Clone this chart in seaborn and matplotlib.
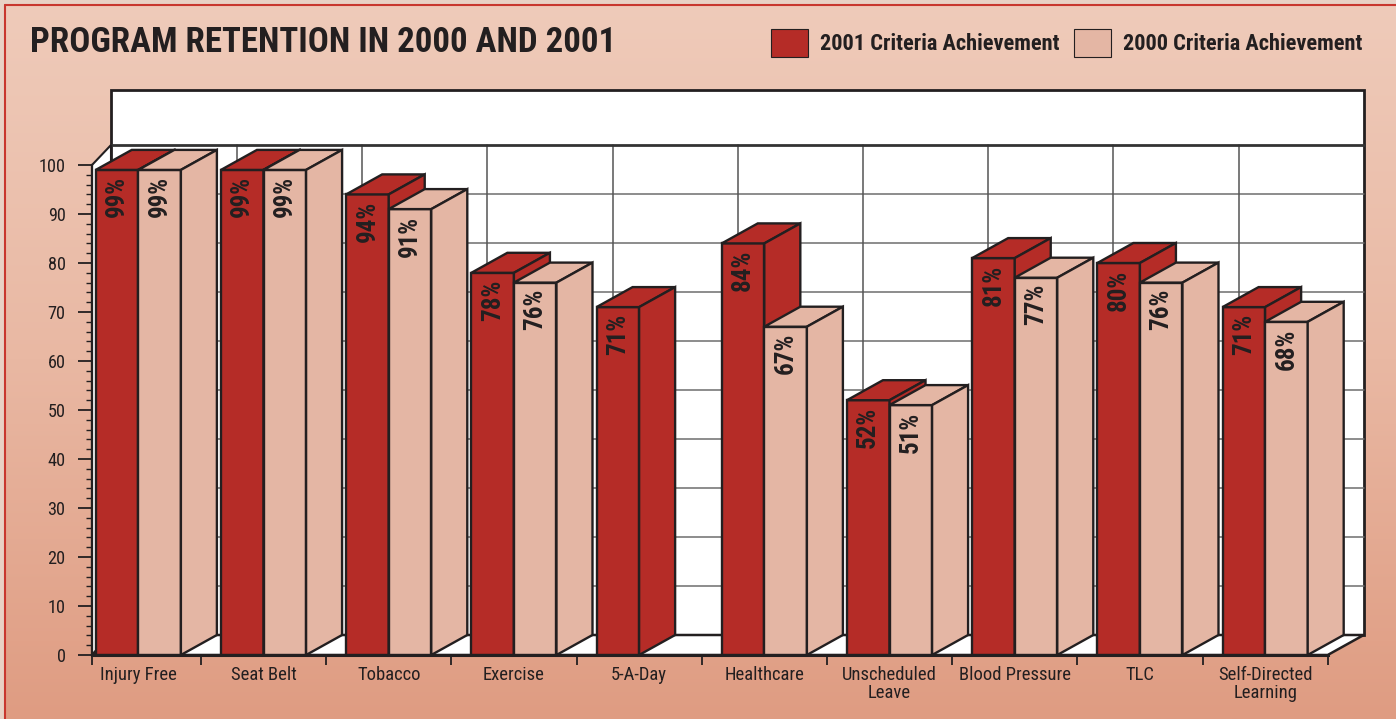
import numpy as np
import pandas as pd
import matplotlib
matplotlib.use("Agg")
import matplotlib.pyplot as plt
from matplotlib import font_manager as fm
import seaborn as sns
from matplotlib.patches import Polygon, Patch, Rectangle
from matplotlib.colors import LinearSegmentedColormap

# ---------------- data ----------------
programs = ["Injury Free", "Seat Belt", "Tobacco", "Exercise", "5-A-Day",
            "Healthcare", "Unscheduled\nLeave", "Blood Pressure", "TLC",
            "Self-Directed\nLearning"]
values_2001 = [99, 99, 94, 78, 71, 84, 52, 81, 80, 71]
values_2000 = [99, 99, 91, 76, np.nan, 67, 51, 77, 76, 68]
series_labels = ["2001 Criteria Achievement", "2000 Criteria Achievement"]
y_ticks = list(range(0, 101, 10))
title = "PROGRAM RETENTION IN 2000 AND 2001"

RED = "#B52C27"
PINK = "#E4B6A4"
INK = "#231F20"

df = pd.DataFrame({
    "program": programs * 2,
    "value": values_2001 + values_2000,
    "series": [series_labels[0]] * len(programs) + [series_labels[1]] * len(programs),
})


def pick_condensed():
    names = {}
    for f in fm.fontManager.ttflist:
        names.setdefault(f.name, []).append(f)
    for n in ["Liberation Sans Narrow", "Roboto Condensed", "Open Sans Condensed",
              "Noto Sans Condensed", "DejaVu Sans Condensed", "Arial Narrow"]:
        if n in names:
            return n, "normal"
    for n in ["Noto Sans", "Open Sans", "Roboto", "DejaVu Sans", "Inter"]:
        for f in names.get(n, []):
            if str(f.stretch) in ("condensed", "semi-condensed", "extra-condensed",
                                  "ultra-condensed"):
                return n, "condensed"
    for n in names:
        if "Narrow" in n or "Condensed" in n:
            return n, "normal"
    return "DejaVu Sans", "normal"


sns.set_theme(style="white")
FONT, STRETCH = pick_condensed()
FAM = [FONT, "DejaVu Sans"]
plt.rcParams["font.family"] = FAM
plt.rcParams["font.stretch"] = STRETCH

W, H = 1396, 719
fig = plt.figure(figsize=(W / 100, H / 100), dpi=100)
renderer = fig.canvas.get_renderer()


def fit_size(s, target_px, cap, weight="normal", vertical=False):
    t = fig.text(0, 0, s, fontsize=20, fontweight=weight, family=FAM,
                 fontstretch=STRETCH, rotation=90 if vertical else 0)
    bb = t.get_window_extent(renderer)
    t.remove()
    size = 20 * target_px / (bb.height if vertical else bb.width)
    return min(size, cap)


fs_title = fit_size(title, 586, 30, "bold")
fs_leg = fit_size(series_labels[0], 238, 17, "bold")
fs_cat = fit_size("Blood Pressure", 112, 15)
fs_ytick = fit_size("100", 27, 14)
fs_bar = fit_size("71%", 44, 18, "bold", vertical=True)

# ---------------- background ----------------
bg = fig.add_axes([0, 0, 1, 1], zorder=-5)
cmap = LinearSegmentedColormap.from_list("bg", ["#EFCBBA", "#E9B8A3", "#DF9C82"])
grad = np.linspace(0, 1, 256).reshape(-1, 1)
bg.imshow(grad, aspect="auto", cmap=cmap, extent=[0, 1, 0, 1], origin="upper")
bg.add_patch(Rectangle((0, 1 - 5 / H), 1, 5 / H, transform=bg.transAxes, fc="#E8D2C5", ec="none"))
bg.add_patch(Rectangle((0, 0), 5 / W, 1, transform=bg.transAxes, fc="#E8D2C5", ec="none"))
bg.plot([5 / W, 1], [1 - 5 / H, 1 - 5 / H], color="#C8372E", lw=1.5, transform=bg.transAxes)
bg.plot([5 / W, 5 / W], [0, 1 - 5 / H], color="#C8372E", lw=1.5, transform=bg.transAxes)
bg.set_xlim(0, 1); bg.set_ylim(0, 1)
bg.axis("off")

# ---------------- main axes (front plane) ----------------
PX_X = 125.2   # px per category
PX_Y = 4.9     # px per value unit
xlim = (-0.37, 9.5)
ylim = (0, 120)
ax = fig.add_axes([92 / W, (H - 655) / H, (xlim[1] - xlim[0]) * PX_X / W, ylim[1] * PX_Y / H])
ax.set_facecolor("none")

DX = 36 / PX_X     # oblique depth (x)
DY = 20 / PX_Y     # oblique depth (y)
DXL = 19 / PX_X    # left wall depth
xl, xr = xlim
back_left = xl + DXL
back_right = xr + DX
top_back = (655 - 90) / PX_Y

# bars (front faces) through seaborn
sns.barplot(data=df, x="program", y="value", hue="series", hue_order=series_labels,
            order=programs, palette=[RED, PINK], saturation=1, width=0.68,
            edgecolor=INK, linewidth=1.7, legend=False, ax=ax)

bars = [p for c in ax.containers for p in c]

# back wall
ax.add_patch(Rectangle((back_left, DY), back_right - back_left, top_back - DY,
                       fc="white", ec=INK, lw=2.0, zorder=1, clip_on=False))
for v in y_ticks[1:-1]:
    ax.plot([back_left, back_right], [v + DY, v + DY], color="#6E6E6E", lw=1.1,
            zorder=1.5, clip_on=False)
ax.plot([back_left, back_right], [100 + DY, 100 + DY], color="#333333", lw=2.0,
        zorder=1.6, clip_on=False)
for b in np.arange(0.5, len(programs) - 1, 1.0):
    ax.plot([b + DX, b + DX], [DY, 100 + DY], color="#555555", lw=1.1,
            zorder=1.5, clip_on=False)
# left wall
ax.add_patch(Polygon([(xl, 0), (back_left, DY), (back_left, 100 + DY), (xl, 100)],
                     closed=True, fc="white", ec=INK, lw=1.5, zorder=2, clip_on=False))
# floor
ax.add_patch(Polygon([(xl, 0), (xr, 0), (back_right, DY), (back_left, DY)],
                     closed=True, fc="white", ec=INK, lw=1.8, zorder=2, clip_on=False))

for p in bars:
    h = p.get_height()
    x0 = p.get_x()
    w = p.get_width()
    if not np.isfinite(h) or h <= 0:
        continue
    cx = x0 + w / 2
    cat = int(round(cx))
    j = 0 if cx < cat else 1
    base = 10 + 4 * cat + 2 * j
    p.set_zorder(base)
    p.set_clip_on(False)
    fc = p.get_facecolor()
    top = Polygon([(x0, h), (x0 + w, h), (x0 + w + DX, h + DY), (x0 + DX, h + DY)],
                  closed=True, fc=fc, ec=INK, lw=1.7, zorder=base + 1, clip_on=False)
    side = Polygon([(x0 + w, 0), (x0 + w + DX, DY), (x0 + w + DX, h + DY), (x0 + w, h)],
                   closed=True, fc=fc, ec=INK, lw=1.7, zorder=base + 1, clip_on=False)
    ax.add_patch(top)
    ax.add_patch(side)
    ax.text(cx, h - 1.3, f"{h:.0f}%", rotation=90, ha="center", va="top",
            fontsize=fs_bar, fontweight="bold", color=INK, zorder=200)

# ---------------- axes styling ----------------
ax.set_xlim(xlim)
ax.set_ylim(ylim)
ax.grid(False)
ax.set_xlabel("")
ax.set_ylabel("")
for s in ["top", "right"]:
    ax.spines[s].set_visible(False)
ax.spines["left"].set_bounds(0, 100)
ax.spines["left"].set_color(INK)
ax.spines["left"].set_linewidth(1.6)
ax.spines["left"].set_zorder(3)
ax.spines["bottom"].set_color(INK)
ax.spines["bottom"].set_linewidth(2.2)
ax.spines["bottom"].set_zorder(300)

ax.set_yticks(y_ticks)
ax.set_yticklabels([str(t) for t in y_ticks])
ax.set_yticks(np.arange(0, 101, 2), minor=True)
ax.set_xticks([xl] + list(np.arange(0.5, len(programs), 1.0)))
ax.set_xticklabels([])
ax.set_xticks(range(len(programs)), labels=programs, minor=True)
for t in ax.get_xticklabels(minor=True):
    t.set_linespacing(1.0)

ax.tick_params(axis="x", which="major", bottom=True, direction="out", length=7,
               width=1.3, color=INK)
ax.tick_params(axis="x", which="minor", bottom=True, length=0, pad=8,
               labelsize=fs_cat, labelcolor=INK)
ax.tick_params(axis="y", which="major", left=True, direction="out", length=10,
               width=1.3, color=INK, pad=9, labelsize=fs_ytick, labelcolor=INK)
ax.tick_params(axis="y", which="minor", left=True, direction="out", length=4,
               width=1.0, color=INK)

# ---------------- title & legend ----------------
fig.text(30 / W, 1 - 26 / H, title, ha="left", va="top", fontsize=fs_title,
         fontweight="bold", color=INK)

fpx = fs_leg * 100 / 72
handles = [Patch(facecolor=RED, edgecolor=INK, linewidth=0.8),
           Patch(facecolor=PINK, edgecolor=INK, linewidth=0.8)]
fig.legend(handles, series_labels, loc="upper right",
           bbox_to_anchor=(1362 / W, 1 - 29 / H), ncol=2, frameon=False,
           prop={"family": FAM, "weight": "bold", "size": fs_leg, "stretch": STRETCH},
           handlelength=37 / fpx, handleheight=35 / fpx, handletextpad=12 / fpx,
           columnspacing=14 / fpx, borderpad=0, borderaxespad=0, labelcolor=INK)

fig.savefig("out.png", dpi=100)
